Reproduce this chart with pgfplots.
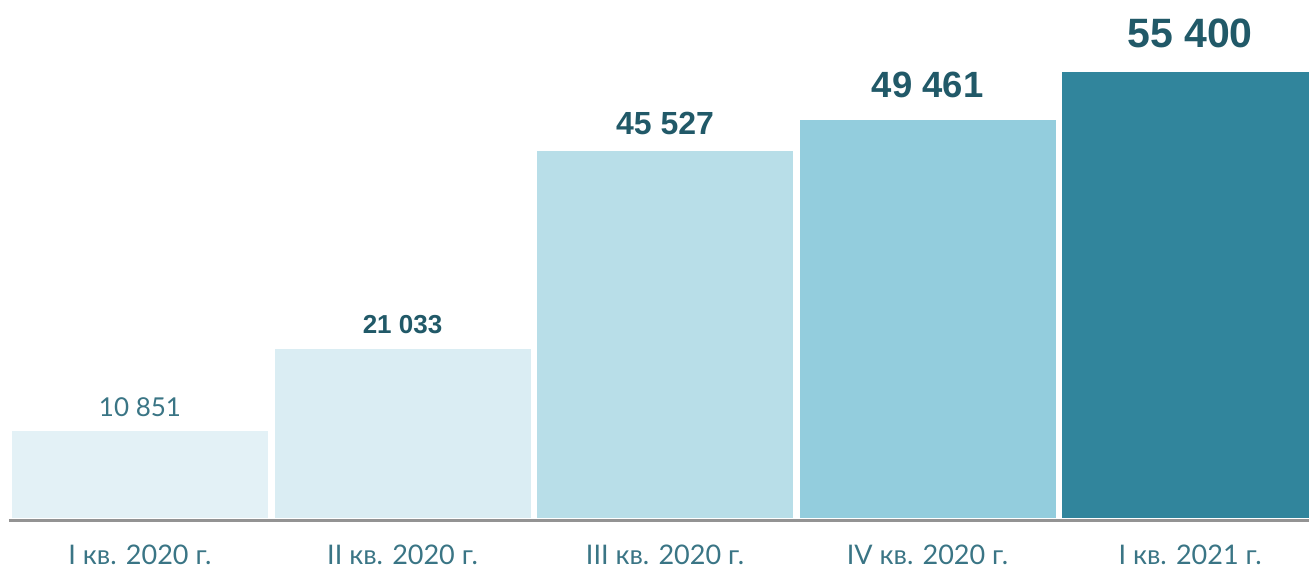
\documentclass[border=0pt]{standalone}
\usepackage{pgfplots}
\pgfplotsset{compat=1.18}
\usepackage{fontspec}
\setmainfont{Lato}
\newfontfamily\arialf{Liberation Sans}

\definecolor{barA}{HTML}{E3F1F6}
\definecolor{barB}{HTML}{DAEDF3}
\definecolor{barC}{HTML}{B8DEE8}
\definecolor{barD}{HTML}{93CDDD}
\definecolor{barE}{HTML}{31859C}
\definecolor{labdark}{HTML}{215968}
\definecolor{lablight}{HTML}{3A7585}
\definecolor{axisgray}{HTML}{939393}

\begin{document}
\begin{tikzpicture}
\begin{axis}[
    at={(8.75bp,48.6bp)}, anchor=south west,
    scale only axis,
    width=1300.25bp, height=520.4bp,
    xmin=-0.5, xmax=4.453,
    ymin=-300, ymax=64300,
    axis x line=bottom, axis y line=none,
    axis line style={-, draw=axisgray, line width=2.5bp},
    ytick=\empty,
    xtick={0,1,2,3,4},
    xticklabels={I кв. 2020 г., II кв. 2020 г., III кв. 2020 г., IV кв. 2020 г., I кв. 2021 г.},
    major tick length=0pt,
    xticklabel style={font=\fontsize{27bp}{30bp}\selectfont, text=lablight, yshift=-21bp},
    ybar, bar width=0.975, bar shift=0pt,
    nodes near coords, point meta=explicit symbolic,
    every node near coord/.append style={anchor=base, inner sep=0pt},
  ]
  % one plot per bar: each has its own colour and label size
  \addplot[fill=barA, draw=none, nodes near coords style={font=\fontsize{26bp}{30bp}\selectfont, text=lablight, yshift=14bp}]
    coordinates {(0,10851) [10 851]};
  \addplot[fill=barB, draw=none, nodes near coords style={font=\arialf\bfseries\fontsize{26bp}{30bp}\selectfont, text=labdark, yshift=15bp}]
    coordinates {(1,21033) [21 033]};
  \addplot[fill=barC, draw=none, nodes near coords style={font=\arialf\bfseries\fontsize{32bp}{36bp}\selectfont, text=labdark, yshift=17bp}]
    coordinates {(2,45527) [45 527]};
  \addplot[fill=barD, draw=none, nodes near coords style={font=\arialf\bfseries\fontsize{36.5bp}{40bp}\selectfont, text=labdark, yshift=22bp}]
    coordinates {(3,49461) [49 461]};
  \addplot[fill=barE, draw=none, nodes near coords style={font=\arialf\bfseries\fontsize{41bp}{45bp}\selectfont, text=labdark, yshift=24bp}]
    coordinates {(4,55400) [55 400]};
\end{axis}
\pgfresetboundingbox
\useasboundingbox (0,0) rectangle (1309bp,569bp);
\end{tikzpicture}
\end{document}
